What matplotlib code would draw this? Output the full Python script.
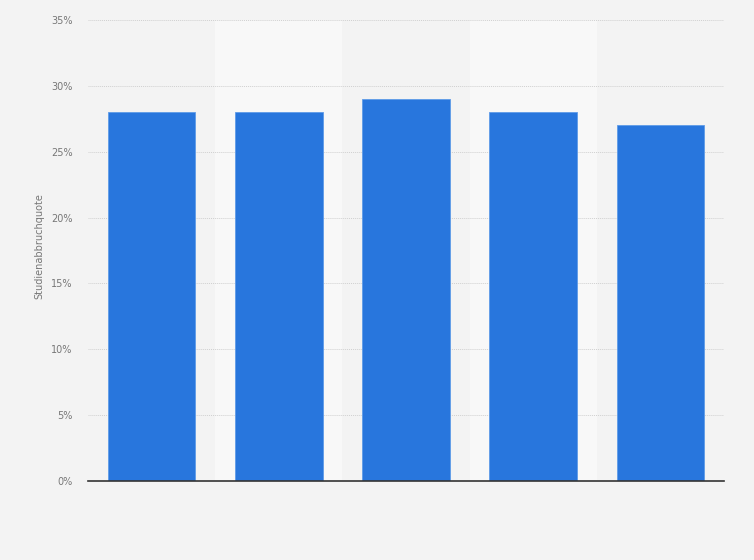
import numpy as np
import matplotlib.pyplot as plt

categories = ["", "", "", "", ""]
values = [28, 28, 29, 28, 27]
y_ticks = [0, 5, 10, 15, 20, 25, 30, 35]
y_labels = [f"{v}%" for v in y_ticks]

bg = "#f3f3f3"
fig = plt.figure(figsize=(7.54, 5.6), dpi=100, facecolor=bg)
ax = fig.add_axes([88 / 754, 1 - 481 / 560, 636 / 754, 461 / 560])
ax.set_facecolor(bg)

x = np.arange(len(values))
# lighter bands behind every other category
for i in x:
    if i % 2 == 1:
        ax.axvspan(i - 0.5, i + 0.5, color="#f8f8f8", zorder=0, lw=0)

ax.bar(x, values, width=0.69, color="#2876dd", edgecolor="#5e9be8", linewidth=0.6, zorder=3)

ax.set_xlim(-0.5, len(values) - 0.5)
ax.set_ylim(0, 35)
ax.set_yticks(y_ticks)
ax.set_yticklabels(y_labels, fontsize=7, color="#777777")
ax.set_xticks(x)
ax.set_xticklabels(categories)
ax.tick_params(axis="both", length=0, pad=11)
ax.yaxis.grid(True, linestyle=(0, (1, 1)), color="#d0d0d0", linewidth=0.7, zorder=1)

for s in ["top", "right", "left"]:
    ax.spines[s].set_visible(False)
ax.spines["bottom"].set_color("#333333")
ax.spines["bottom"].set_linewidth(1.2)
ax.spines["bottom"].set_zorder(4)

ax.set_ylabel("Studienabbruchquote", fontsize=7, color="#777777")
ax.yaxis.set_label_coords(-44 / 636, 0.51)

fig.savefig("out.png", dpi=100, facecolor=bg)
